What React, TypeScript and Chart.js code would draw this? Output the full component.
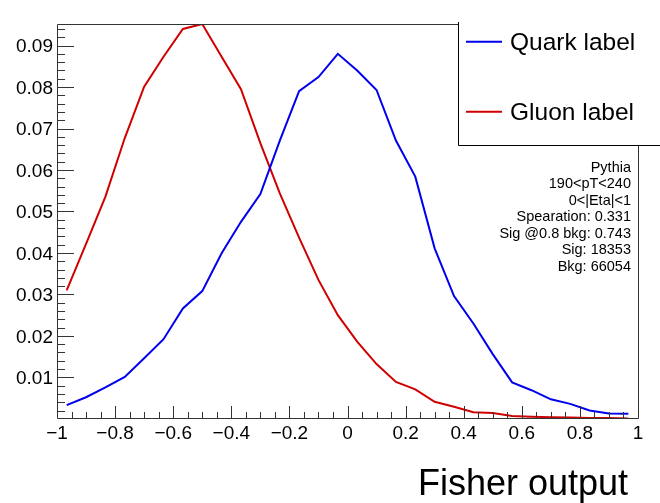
import React, { useEffect, useRef } from "react";
import { Chart, registerables } from "chart.js";

Chart.register(...registerables);

const binCenters = [
  -0.9667, -0.9, -0.8333, -0.7667, -0.7, -0.6333, -0.5667, -0.5, -0.4333, -0.3667,
  -0.3, -0.2333, -0.1667, -0.1, -0.0333, 0.0333, 0.1, 0.1667, 0.2333, 0.3,
  0.3667, 0.4333, 0.5, 0.5667, 0.6333, 0.7, 0.7667, 0.8333, 0.9, 0.9667,
];
const quark = [
  0.0033, 0.0052, 0.0076, 0.0101, 0.0146, 0.0192, 0.0266, 0.0308, 0.0399, 0.0475,
  0.0542, 0.0670, 0.079, 0.0824, 0.088, 0.084, 0.0793, 0.0671, 0.0584, 0.0411,
  0.0296, 0.023, 0.0156, 0.0088, 0.0069, 0.0047, 0.0036, 0.002, 0.0013, 0.0012,
];
const gluon = [
  0.031, 0.0422, 0.0536, 0.0677, 0.0801, 0.0873, 0.094, 0.0952, 0.0873, 0.0795,
  0.0665, 0.0544, 0.0437, 0.0335, 0.025, 0.0186, 0.0132, 0.0089, 0.0071, 0.0041,
  0.0029, 0.0016, 0.0014, 0.0007, 0.0005, 0.0004, 0.0003, 0.0002, 0.0002, 0.0001,
];
const xTicks = [-1, -0.8, -0.6, -0.4, -0.2, 0, 0.2, 0.4, 0.6, 0.8, 1];
const yTicks = [0.01, 0.02, 0.03, 0.04, 0.05, 0.06, 0.07, 0.08, 0.09];
const seriesLabels = ["Quark label", "Gluon label"];
const infoLines = [
  "Pythia",
  "190<pT<240",
  "0<|Eta|<1",
  "Spearation: 0.331",
  "Sig @0.8 bkg: 0.743",
  "Sig: 18353",
  "Bkg: 66054",
];
const xTitle = "Fisher output";

const FONT = "'Liberation Sans', Arial, Helvetica, sans-serif";

function fmtX(v: number) {
  let s = Math.abs(v) < 1e-9 ? "0" : Math.abs(Math.abs(v) - 1) < 1e-9 ? String(Math.round(v)) : v.toFixed(1);
  return s.replace("-", "\u2212");
}

const rootPlugin = {
  id: "rootStyle",
  afterDraw(chart: any) {
    const ctx = chart.ctx;
    const area = chart.chartArea;
    const xs = chart.scales.x;
    const ys = chart.scales.y;
    const L = area.left, R = area.right, T = area.top, B = area.bottom;
    ctx.save();
    // frame
    ctx.strokeStyle = "#333";
    ctx.lineWidth = 1;
    ctx.beginPath();
    ctx.moveTo(L + 0.5, T + 0.5);
    ctx.lineTo(L + 0.5, B + 0.5);
    ctx.lineTo(R + 0.5, B + 0.5);
    ctx.lineTo(R + 0.5, T + 0.5);
    ctx.lineTo(L + 0.5, T + 0.5);
    ctx.stroke();
    // y ticks
    ctx.beginPath();
    for (let i = 1; i <= 47; i++) {
      const v = i * 0.002;
      const p = Math.round(ys.getPixelForValue(v)) + 0.5;
      if (p < T || p > B) continue;
      const major = i % 5 === 0;
      ctx.moveTo(L, p);
      ctx.lineTo(L + (major ? 17 : 8), p);
    }
    // x ticks
    for (let i = 0; i <= 40; i++) {
      const v = -1 + i * 0.05;
      const p = Math.round(xs.getPixelForValue(v)) + 0.5;
      const major = i % 4 === 0;
      ctx.moveTo(p, B);
      ctx.lineTo(p, B - (major ? 12 : 6));
    }
    ctx.stroke();
    // tick labels
    ctx.fillStyle = "#000";
    ctx.font = `19px ${FONT}`;
    ctx.textBaseline = "alphabetic";
    ctx.textAlign = "right";
    for (const v of yTicks) {
      ctx.fillText(v.toFixed(2), 53, ys.getPixelForValue(v) + 6.8);
    }
    ctx.textAlign = "center";
    for (const v of xTicks) {
      ctx.fillText(fmtX(v), xs.getPixelForValue(v), 439);
    }
    // axis title
    ctx.textAlign = "right";
    ctx.font = `36px ${FONT}`;
    ctx.fillText(xTitle, 628, 495);
    // info text
    ctx.font = `14.5px ${FONT}`;
    infoLines.forEach((t, i) => {
      ctx.fillText(t, 631, 171.5 + i * 16.5);
    });
    // legend box
    ctx.fillStyle = "#fff";
    ctx.fillRect(458, 20, 210, 126);
    ctx.strokeStyle = "#000";
    ctx.beginPath();
    ctx.moveTo(458.5, 22);
    ctx.lineTo(458.5, 145.5);
    ctx.lineTo(665, 145.5);
    ctx.stroke();
    const ds = chart.data.datasets;
    const rows = [41.7, 111.7];
    ds.forEach((d: any, i: number) => {
      ctx.strokeStyle = d.borderColor;
      ctx.lineWidth = 2;
      ctx.beginPath();
      ctx.moveTo(466, rows[i]);
      ctx.lineTo(502, rows[i]);
      ctx.stroke();
      ctx.fillStyle = "#000";
      ctx.textAlign = "left";
      ctx.font = `24.5px ${FONT}`;
      ctx.fillText(d.label, 510, rows[i] + 8.5);
    });
    ctx.restore();
  },
};

export default function App() {
  const ref = useRef<HTMLCanvasElement>(null);
  useEffect(() => {
    if (!ref.current) return;
    const chart = new Chart(ref.current, {
      type: "line",
      data: {
        datasets: [
          {
            label: seriesLabels[0],
            data: binCenters.map((x, i) => ({ x, y: quark[i] })),
            borderColor: "#0000ee",
            borderWidth: 2,
            pointRadius: 0,
            tension: 0,
            fill: false,
          },
          {
            label: seriesLabels[1],
            data: binCenters.map((x, i) => ({ x, y: gluon[i] })),
            borderColor: "#d00000",
            borderWidth: 2,
            pointRadius: 0,
            tension: 0,
            fill: false,
          },
        ],
      },
      options: {
        animation: false,
        responsive: false,
        devicePixelRatio: 1,
        layout: { padding: { top: 24, right: 22, left: 0, bottom: 0 }, autoPadding: false },
        plugins: { legend: { display: false }, tooltip: { enabled: false } },
        scales: {
          x: {
            type: "linear",
            min: -1,
            max: 1,
            grid: { display: false },
            border: { display: false },
            ticks: { display: false },
            afterFit: (s: any) => {
              s.height = 85;
            },
          },
          y: {
            type: "linear",
            min: 0.0002,
            max: 0.0952,
            grid: { display: false },
            border: { display: false },
            ticks: { display: false },
            afterFit: (s: any) => {
              s.width = 57;
            },
          },
        },
      },
      plugins: [rootPlugin],
    } as any);
    return () => chart.destroy();
  }, []);
  return (
    <div style={{ position: "fixed", left: 0, top: 0, width: 660, height: 503, background: "#fff" }}>
      <canvas ref={ref} width={660} height={503} style={{ width: 660, height: 503 }} />
    </div>
  );
}
